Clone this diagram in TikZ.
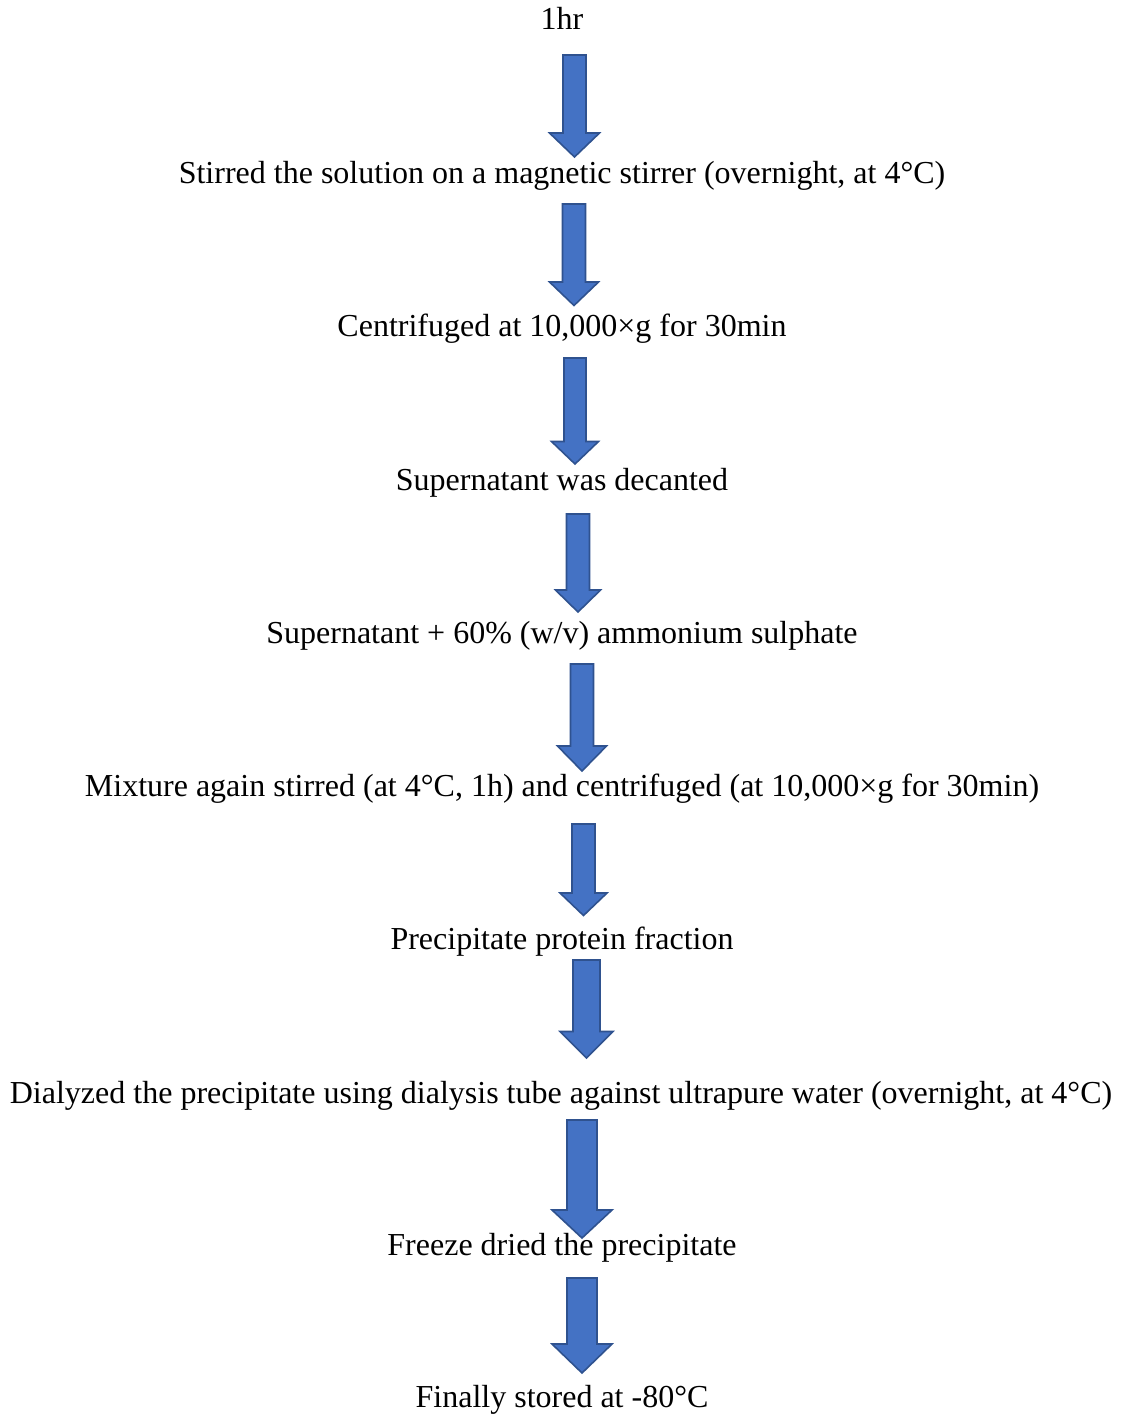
\documentclass[tikz,border=0pt]{standalone}
\usepackage{fontspec}
\setmainfont{Liberation Serif}
\definecolor{arrfill}{HTML}{4472C4}
\definecolor{arrline}{HTML}{2F528F}
\newcommand\blockarrow[6]{% cx, top, shaft width, head start, head width, tip
  \fill[arrfill,draw=arrline,line width=1.6pt,line join=miter]
    ({#1-#3/2},#2) -- ({#1+#3/2},#2) -- ({#1+#3/2},#4) -- ({#1+#5/2},#4)
    -- (#1,#6) -- ({#1-#5/2},#4) -- ({#1-#3/2},#4) -- cycle;}
\begin{document}
\begin{tikzpicture}[x=1pt,y=-1pt,
  steptext/.style={anchor=base,inner sep=0pt,font=\fontsize{32}{38}\selectfont}]
\useasboundingbox[fill=white] (0,0) rectangle (1127,1414);
\node[steptext] (t0) at (562,29) {1hr};
\node[steptext] (t1) at (562,183) {Stirred the solution on a magnetic stirrer (overnight, at 4°C)};
\node[steptext] (t2) at (562,336) {Centrifuged at 10,000×g for 30min};
\node[steptext] (t3) at (562,490) {Supernatant was decanted};
\node[steptext] (t4) at (562,643) {Supernatant + 60\% (w/v) ammonium sulphate};
\node[steptext] (t5) at (562,796) {Mixture again stirred (at 4°C, 1h) and centrifuged (at 10,000×g for 30min)};
\node[steptext] (t6) at (562,949) {Precipitate protein fraction};
\node[steptext] (t7) at (561,1103) {Dialyzed the precipitate using dialysis tube against ultrapure water (overnight, at 4°C)};
\blockarrow{582}{1120}{30}{1210}{60}{1238}
\node[steptext] (t8) at (562,1255) {Freeze dried the precipitate};
\node[steptext] (t9) at (562,1407) {Finally stored at -80°C};
\blockarrow{574.5}{55}{23}{133}{50}{157}
\blockarrow{574}{204}{23}{282}{49}{305.5}
\blockarrow{575}{358}{22}{441.5}{47}{464}
\blockarrow{578}{514}{23}{590}{45}{612}
\blockarrow{582}{664}{23}{746}{49}{771}
\blockarrow{583.5}{824}{23}{893}{47}{915.5}
\blockarrow{586.5}{960}{27}{1031.5}{53}{1058}
\blockarrow{582}{1278}{30}{1344}{60}{1373}
\end{tikzpicture}
\end{document}
